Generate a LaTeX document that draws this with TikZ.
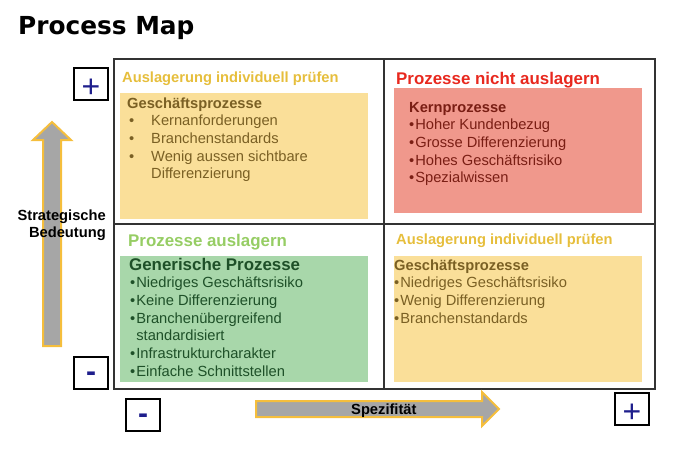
\documentclass[tikz,border=0pt]{standalone}
\usepackage{fontspec}
\setmainfont{Liberation Sans}
\newfontfamily\titlefont{DejaVu Sans}

\definecolor{boxyellow}{RGB}{250,223,153}
\definecolor{textolive}{RGB}{122,96,36}
\definecolor{titleyellow}{RGB}{230,190,60}
\definecolor{boxred}{RGB}{240,152,140}
\definecolor{textred}{RGB}{122,30,20}
\definecolor{titlered}{RGB}{232,40,30}
\definecolor{boxgreen}{RGB}{168,215,170}
\definecolor{textgreen}{RGB}{30,80,40}
\definecolor{titlegreen}{RGB}{150,205,100}
\definecolor{arrowgray}{RGB}{166,166,166}
\definecolor{arrowyellow}{RGB}{245,190,60}
\definecolor{signblue}{RGB}{30,30,140}

\begin{document}
\begin{tikzpicture}[x=1pt, y=-1pt, every node/.style={inner sep=0pt, anchor=base west},
    item/.style={font=\fontsize{14.7}{17.7}\selectfont},
    head/.style={font=\fontsize{14.7}{17.7}\selectfont\bfseries},
    bighead/.style={font=\fontsize{16.9}{20}\selectfont\bfseries},
    signbox/.style={draw=black, line width=2pt, minimum width=34pt, minimum height=32pt, anchor=center, text=signblue, text depth=0pt},
    plussign/.style={signbox, font=\fontsize{32}{32}\selectfont, text height=27pt},
    minussign/.style={signbox, font=\fontsize{30}{30}\selectfont\bfseries, text height=17.4pt},
    axisarrow/.style={fill=arrowgray, draw=arrowyellow, line width=2pt},
    quad/.style={draw=black!80, line width=1.5pt}]

    \useasboundingbox (0,0) rectangle (678,453);

    % Title
    \node[font=\titlefont\fontsize{24.8}{28}\selectfont\bfseries] (title) at (18,34) {Process Map};

    % Grid
    \draw[quad] (114,59) rectangle (655,389);
    \draw[quad] (384,59) -- (384,389);
    \draw[quad] (114,224) -- (655,224);

    % Coloured boxes
    \fill[boxyellow] (120,93) rectangle (368,219);
    \fill[boxred] (394,88) rectangle (642,213);
    \fill[boxgreen] (120,256) rectangle (368,382);
    \fill[boxyellow] (394,256) rectangle (642,382);

    % Top left
    \node[head, text=titleyellow] (tlt) at (122,82) {Auslagerung individuell prüfen};
    \node[head, text=textolive] (tlh) at (127,108) {Geschäftsprozesse};
    \foreach \t [count=\i] in {Kernanforderungen, Branchenstandards, Wenig aussen sichtbare} {
        \node[item, text=textolive] (tlb\i) at (129,108+17.7*\i) {•};
        \node[item, text=textolive] (tl\i) at (151,108+17.7*\i) {\t};
    }
    \node[item, text=textolive] (tl4) at (151,108+17.7*4) {Differenzierung};

    % Top right
    \node[bighead, text=titlered] (trt) at (396,84) {Prozesse nicht auslagern};
    \node[head, text=textred] (trh) at (409,112) {Kernprozesse};
    \foreach \t [count=\i] in {Hoher Kundenbezug, Grosse Differenzierung, Hohes Geschäftsrisiko, Spezialwissen}
        \node[item, text=textred] (tr\i) at (409,112+17.7*\i) {•\kern1pt\t};

    % Bottom left
    \node[bighead, text=titlegreen] (blt) at (128,246) {Prozesse auslagern};
    \node[bighead, text=textgreen] (blh) at (129,270) {Generische Prozesse};
    \foreach \t [count=\i] in {Niedriges Geschäftsrisiko, Keine Differenzierung, Branchenübergreifend, \phantom{•}\kern1pt standardisiert, Infrastrukturcharakter, Einfache Schnittstellen}
        \node[item, text=textgreen] (bl\i) at (130,270+17.7*\i) {\ifnum\i=4 \else •\kern1pt\fi\t};

    % Bottom right
    \node[head, text=titleyellow] (brt) at (396,244) {Auslagerung individuell prüfen};
    \node[head, text=textolive] (brh) at (394,270) {Geschäftsprozesse};
    \foreach \t [count=\i] in {Niedriges Geschäftsrisiko, Wenig Differenzierung, Branchenstandards}
        \node[item, text=textolive] (br\i) at (394,270+17.7*\i) {•\kern1pt\t};

    % Axes
    \draw[axisarrow] (43,346) -- (43,140) -- (33,140) -- (52,122) -- (71,140) -- (61,140) -- (61,346) -- cycle;
    \draw[axisarrow] (256,401) -- (482,401) -- (482,392) -- (499,409) -- (482,426) -- (482,417) -- (256,417) -- cycle;
    \node[head, anchor=base east] (strat) at (106,220) {Strategische};
    \node[head, anchor=base east] (bed) at (106,237) {Bedeutung};
    \node[head] (spez) at (351,414) {Spezifität};

    % Plus and minus boxes
    \node[plussign] (plusV) at (91,84) {+};
    \node[minussign] (minusV) at (91,372.5) {-};
    \node[minussign] (minusH) at (143,415) {-};
    \node[plussign] (plusH) at (632,408.5) {+};

\end{tikzpicture}
\end{document}
